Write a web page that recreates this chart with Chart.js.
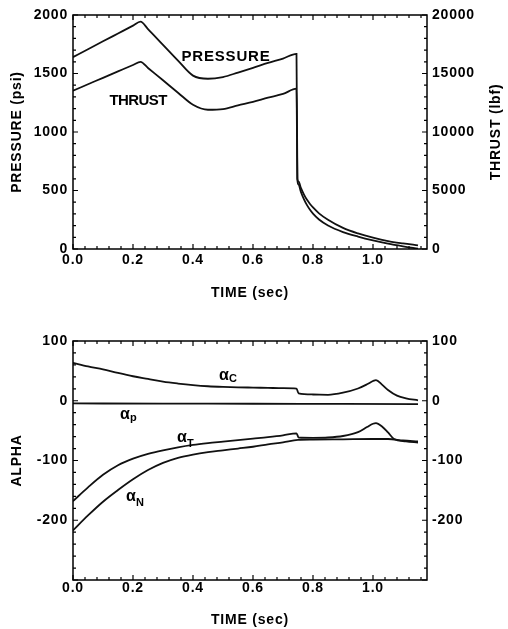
<!DOCTYPE html>
<html><head><meta charset="utf-8">
<script src="https://cdn.jsdelivr.net/npm/chart.js@4"></script>
<style>
html,body{margin:0;padding:0;background:#fff;}
#wrap{position:relative;width:508px;height:629px;overflow:hidden;}
#box1{position:absolute;left:0;top:0;width:508px;height:305px;}
#box2{position:absolute;left:0;top:305px;width:508px;height:324px;}
</style></head><body>
<div id="wrap"><div id="box1"><canvas id="c1"></canvas></div><div id="box2"><canvas id="c2"></canvas></div></div>
<script>
// ---------- DATA ----------
// Top chart: time (sec), chamber pressure (psi), thrust (lbf)
const timeTop  = [0, 0.05, 0.10, 0.15, 0.20, 0.225, 0.25, 0.30, 0.35, 0.40, 0.45, 0.50, 0.55, 0.60, 0.65, 0.70, 0.745, 0.748, 0.752, 0.76, 0.77, 0.78, 0.79, 0.80, 0.82, 0.85, 0.90, 0.95, 1.00, 1.05, 1.10, 1.15];
const pressure = [1640, 1707, 1775, 1842, 1909, 1943, 1880, 1745, 1610, 1482, 1455, 1470, 1508, 1548, 1590, 1628, 1668, 600, 575, 520, 465, 420, 385, 355, 305, 250, 180, 133, 97, 68, 48, 31];
const thrust   = [13530, 14080, 14630, 15180, 15730, 16000, 15470, 14420, 13360, 12330, 11900, 11960, 12280, 12580, 12930, 13250, 13700, 5900, 5500, 4850, 4250, 3750, 3350, 3020, 2520, 2010, 1450, 1060, 730, 450, 230, 40];

// Bottom chart: alpha terms
const timeC   = [0, 0.05, 0.10, 0.15, 0.20, 0.25, 0.30, 0.35, 0.40, 0.45, 0.50, 0.55, 0.60, 0.65, 0.70, 0.745, 0.752, 0.80, 0.85, 0.90, 0.95, 0.98, 1.00, 1.01, 1.03, 1.05, 1.08, 1.11, 1.15];
const alphaC  = [63.5, 57.5, 52.5, 46.5, 41, 36.5, 32, 28.8, 26.2, 24.3, 23.2, 22.5, 22, 21.5, 21, 20.3, 12.5, 10.5, 10, 13.5, 20.5, 27.5, 33, 34.5, 27, 18, 8.5, 4, 0.8];
const timeP   = [0, 0.3, 0.6, 0.9, 1.15];
const alphaP  = [-4.5, -4.8, -5, -5.3, -5.5];
const timeT   = [0, 0.05, 0.10, 0.15, 0.20, 0.25, 0.30, 0.35, 0.40, 0.45, 0.50, 0.55, 0.60, 0.65, 0.70, 0.745, 0.752, 0.80, 0.85, 0.90, 0.95, 0.98, 1.00, 1.01, 1.03, 1.05, 1.07, 1.11, 1.15];
const alphaT  = [-168, -145, -124, -108, -97, -89, -83, -78, -74, -71, -68.5, -66, -63.5, -61, -58, -54.5, -61.5, -62, -61.5, -59, -52.5, -44, -38.5, -37.5, -43, -53, -64, -68, -70];
const timeN   = [0, 0.05, 0.10, 0.15, 0.20, 0.25, 0.30, 0.35, 0.40, 0.45, 0.50, 0.55, 0.60, 0.65, 0.70, 0.75, 0.80, 0.90, 1.00, 1.05, 1.10, 1.15];
const alphaN  = [-217, -192, -169, -149.5, -131.5, -116, -104, -95.5, -90, -86, -83, -80, -77, -73, -69.5, -65.5, -65, -64.5, -64, -64, -66.5, -68];

// Tick values / labels
const timeTicks     = [0, 0.2, 0.4, 0.6, 0.8, 1.0];
const timeTickText  = ['0.0', '0.2', '0.4', '0.6', '0.8', '1.0'];
const pressureTicks = [0, 500, 1000, 1500, 2000];
const thrustTicks   = [0, 5000, 10000, 15000, 20000];
const alphaTicks    = [-200, -100, 0, 100];

// ---------- STYLE / HELPERS ----------
const FAMILY = "'Liberation Sans', Arial, Helvetica, sans-serif";
Chart.defaults.font.family = FAMILY;
Chart.defaults.color = '#000';
const tickFont = {family: FAMILY, size: 14, weight: 'bold'};
const titleFont = {family: FAMILY, size: 14, weight: 'bold'};
const pts = (xs, ys) => xs.map((x, i) => ({x: x, y: ys[i]}));
const lineDs = (data, axis) => ({data: data, yAxisID: axis, borderColor: '#111', borderWidth: 1.8,
  pointRadius: 0, fill: false, tension: 0, cubicInterpolationMode: 'monotone'});

const spacing = {
  id: 'spacing',
  beforeDraw(chart) { chart.ctx.letterSpacing = '0.8px'; }
};

const frameTicks = {
  id: 'frameTicks',
  afterDraw(chart, args, o) {
    const {ctx, chartArea: a} = chart;
    ctx.save();
    ctx.letterSpacing = '0px';
    ctx.strokeStyle = '#000';
    ctx.lineWidth = 1.5;
    ctx.strokeRect(a.left, a.top, a.right - a.left, a.bottom - a.top);
    ctx.lineWidth = 1.2;
    const mark = (scale, step, major, fn) => {
      const start = Math.ceil(scale.min / step - 1e-9);
      for (let i = start; i * step <= scale.max + 1e-9; i++) {
        const v = i * step;
        const p = scale.getPixelForValue(v);
        const isMaj = Math.abs(v / major - Math.round(v / major)) < 1e-6;
        fn(p, isMaj ? o.majorLen : o.minorLen);
      }
    };
    ctx.beginPath();
    mark(chart.scales.x, o.xMinor, o.xMajor, (p, l) => {
      ctx.moveTo(p, a.bottom); ctx.lineTo(p, a.bottom - l);
      ctx.moveTo(p, a.top); ctx.lineTo(p, a.top + l);
    });
    mark(chart.scales.y, o.yMinor, o.yMajor, (p, l) => {
      ctx.moveTo(a.left, p); ctx.lineTo(a.left + l, p);
    });
    mark(chart.scales.y2, o.y2Minor, o.y2Major, (p, l) => {
      ctx.moveTo(a.right, p); ctx.lineTo(a.right - l, p);
    });
    ctx.stroke();
    ctx.restore();
  }
};

const textLabels = {
  id: 'textLabels',
  afterDatasetsDraw(chart, args, o) {
    const ctx = chart.ctx;
    const xs = chart.scales.x, ys = chart.scales.y;
    ctx.save();
    ctx.fillStyle = '#000';
    (o.items || []).forEach(it => {
      const px = xs.getPixelForValue(it.x), py = ys.getPixelForValue(it.y);
      ctx.font = 'bold ' + it.size + 'px ' + FAMILY;
      ctx.letterSpacing = (it.ls || 0) + 'px';
      ctx.textAlign = it.align || 'left';
      ctx.textBaseline = it.baseline || 'alphabetic';
      ctx.fillText(it.text, px, py);
      if (it.sub) {
        const w = ctx.measureText(it.text).width;
        ctx.font = 'bold ' + it.subSize + 'px ' + FAMILY;
        ctx.letterSpacing = '0px';
        ctx.textAlign = 'left';
        ctx.textBaseline = 'alphabetic';
        ctx.fillText(it.sub, px + w, py + it.subDy);
      }
    });
    if (o.rightTitle) {
      const a = chart.chartArea;
      ctx.font = 'bold 14px ' + FAMILY;
      ctx.letterSpacing = '0.8px';
      ctx.textAlign = 'center';
      ctx.textBaseline = 'middle';
      ctx.translate(chart.scales.y2.right - 12, (a.top + a.bottom) / 2);
      ctx.rotate(-Math.PI / 2);
      ctx.fillText(o.rightTitle, 0, 0);
    }
    ctx.restore();
  }
};

function xScale(tickPad, titlePadBottom, height) {
  return {
    type: 'linear', position: 'bottom', min: 0, max: 1.18,
    grid: {display: false, drawTicks: false}, border: {display: false},
    afterBuildTicks: s => { s.ticks = timeTicks.map(v => ({value: v})); },
    ticks: {font: tickFont, color: '#000', padding: tickPad, maxRotation: 0, autoSkip: false,
      callback: v => timeTickText[timeTicks.indexOf(v)] ?? ''},
    title: {display: true, text: 'TIME (sec)', font: titleFont, color: '#000', padding: {top: 0, bottom: titlePadBottom}},
    afterFit: s => { s.height = height; }
  };
}
function yScale(pos, min, max, tickArr, title, width) {
  return {
    type: 'linear', position: pos, min: min, max: max,
    grid: {display: false, drawTicks: false}, border: {display: false},
    afterBuildTicks: s => { s.ticks = tickArr.map(v => ({value: v})); },
    ticks: {font: tickFont, color: '#000', padding: 5, autoSkip: false, callback: v => String(v)},
    title: {display: !!title, text: title || '', font: titleFont, color: '#000', padding: {top: 9, bottom: 0}},
    afterFit: s => { s.width = width; }
  };
}

// ---------- TOP CHART ----------
new Chart(document.getElementById('c1'), {
  type: 'line',
  data: {datasets: [
    lineDs(pts(timeTop, pressure), 'y'),
    lineDs(pts(timeTop, thrust), 'y2')
  ]},
  options: {
    responsive: true, maintainAspectRatio: false, animation: false, devicePixelRatio: 1,
    layout: {padding: {top: 15, left: 0, right: 0, bottom: 0}},
    scales: {
      x: xScale(3, 3.6, 56),
      y: yScale('left', 0, 2000, pressureTicks, 'PRESSURE (psi)', 73),
      y2: yScale('right', 0, 20000, thrustTicks, null, 81)
    },
    plugins: {
      legend: {display: false}, tooltip: {enabled: false},
      frameTicks: {xMinor: 0.04, xMajor: 0.2, yMinor: 100, yMajor: 500, y2Minor: 1000, y2Major: 5000, majorLen: 5, minorLen: 3},
      textLabels: {
        rightTitle: 'THRUST (lbf)',
        items: [
          {text: 'PRESSURE', x: 0.51, y: 1641, size: 15, ls: 0.8, align: 'center', baseline: 'middle'},
          {text: 'THRUST', x: 0.217, y: 1269, size: 15, ls: -0.6, align: 'center', baseline: 'middle'}
        ]
      }
    }
  },
  plugins: [spacing, frameTicks, textLabels]
});

// ---------- BOTTOM CHART ----------
new Chart(document.getElementById('c2'), {
  type: 'line',
  data: {datasets: [
    lineDs(pts(timeC, alphaC), 'y'),
    lineDs(pts(timeP, alphaP), 'y'),
    lineDs(pts(timeT, alphaT), 'y'),
    lineDs(pts(timeN, alphaN), 'y')
  ]},
  options: {
    responsive: true, maintainAspectRatio: false, animation: false, devicePixelRatio: 1,
    layout: {padding: {top: 36, left: 0, right: 0, bottom: 0}},
    scales: {
      x: xScale(0, 0, 49),
      y: yScale('left', -300, 100, alphaTicks, 'ALPHA', 73),
      y2: yScale('right', -300, 100, alphaTicks, null, 81)
    },
    plugins: {
      legend: {display: false}, tooltip: {enabled: false},
      frameTicks: {xMinor: 0.04, xMajor: 0.2, yMinor: 20, yMajor: 100, y2Minor: 20, y2Major: 100, majorLen: 5, minorLen: 3},
      textLabels: {
        items: [
          {text: 'α', sub: 'C', x: 0.487, y: 34.2, size: 16, subSize: 11, subDy: 2},
          {text: 'α', sub: 'p', x: 0.157, y: -30.8, size: 16, subSize: 11, subDy: 2},
          {text: 'α', sub: 'T', x: 0.347, y: -69.2, size: 16, subSize: 11, subDy: 5},
          {text: 'α', sub: 'N', x: 0.177, y: -167.5, size: 16, subSize: 11, subDy: 5}
        ]
      }
    }
  },
  plugins: [spacing, frameTicks, textLabels]
});
</script>
</body></html>
